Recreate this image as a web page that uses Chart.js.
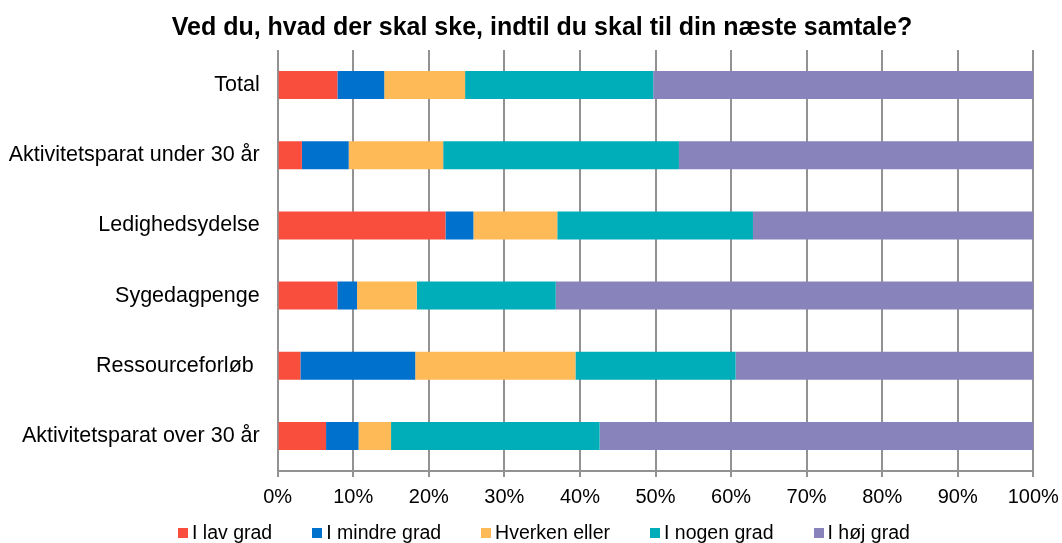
<!DOCTYPE html>
<html lang="da">
<head>
<meta charset="utf-8">
<title>Ved du, hvad der skal ske</title>
<script src="https://cdn.jsdelivr.net/npm/chart.js@4.4.1/dist/chart.umd.min.js"></script>
<style>
    html, body { margin: 0; padding: 0; background: #ffffff; }
    #wrap { width: 1062px; height: 543px; position: relative; font-family: Arial, 'Liberation Sans', sans-serif; }
    #chart-title {
        position: absolute; left: 0; width: 1084px; top: 12px; margin: 0;
        text-align: center; font-size: 25px; line-height: 28px; font-weight: bold; color: #000;
    }
    #legend {
        position: absolute; left: 178px; top: 521px;
        display: flex; align-items: center; font-size: 19.5px; line-height: 22px; color: #000;
    }
    #legend .item { display: flex; align-items: center; margin-right: 40px; white-space: pre; }
    #legend .box { width: 10px; height: 10px; margin-right: 4px; margin-top: 1px; }
</style>
</head>
<body>
<div id="wrap">
    <h1 id="chart-title">Ved du, hvad der skal ske, indtil du skal til din næste samtale?</h1>
    <canvas id="chart"></canvas>
    <div id="legend"></div>
</div>
<script>
// data (percent of respondents)
const categories = ['Total', 'Aktivitetsparat under 30 år', 'Ledighedsydelse', 'Sygedagpenge', 'Ressourceforløb ', 'Aktivitetsparat over 30 år'];
const seriesNames = ['I lav grad', 'I mindre grad', 'Hverken eller', 'I nogen grad', 'I høj grad'];
const lavGrad = [7.9, 3.2, 22.2, 7.9, 3.0, 6.4];
const mindreGrad = [6.2, 6.2, 3.7, 2.6, 15.2, 4.3];
const hverkenEller = [10.7, 12.5, 11.1, 7.9, 21.2, 4.3];
const nogenGrad = [24.9, 31.2, 25.9, 18.4, 21.2, 27.6];
const hoejGrad = [50.3, 46.9, 37.1, 63.2, 39.4, 57.4];
const tickValues = [0, 10, 20, 30, 40, 50, 60, 70, 80, 90, 100];

const colors = ['#F94E3D', '#0072CE', '#FFBA58', '#00AEB9', '#8983BB'];
const values = [lavGrad, mindreGrad, hverkenEller, nogenGrad, hoejGrad];
const FONT = "Arial, 'Liberation Sans', sans-serif";
const gridGrey = '#929292';

// html legend built from the chart's own legend items
const htmlLegend = {
    id: 'htmlLegend',
    afterUpdate(chart) {
        const box = document.getElementById('legend');
        box.innerHTML = '';
        const items = chart.options.plugins.legend.labels.generateLabels(chart);
        items.forEach(item => {
            const el = document.createElement('div');
            el.className = 'item';
            const sw = document.createElement('span');
            sw.className = 'box';
            sw.style.background = item.fillStyle;
            const txt = document.createElement('span');
            txt.textContent = item.text;
            el.appendChild(sw);
            el.appendChild(txt);
            box.appendChild(el);
        });
    }
};

new Chart(document.getElementById('chart'), {
    type: 'bar',
    data: {
        labels: categories,
        datasets: seriesNames.map((name, i) => ({
            label: name,
            data: values[i],
            backgroundColor: colors[i],
            borderWidth: 0,
            categoryPercentage: 1,
            barPercentage: 0.4
        }))
    },
    plugins: [htmlLegend],
    options: {
        indexAxis: 'y',
        responsive: true,
        maintainAspectRatio: false,
        animation: false,
        layout: { padding: { left: 0, right: 28.7, top: 50, bottom: 32 } },
        plugins: {
            title: { display: false },
            legend: { display: false },
            tooltip: { enabled: false }
        },
        scales: {
            x: {
                stacked: true,
                min: 0,
                max: 100,
                afterBuildTicks: (scale) => { scale.ticks = tickValues.map(v => ({ value: v })); },
                afterFit: (scale) => {
                    scale.height = 40;
                    // the layout padding already leaves room for "100%"
                    scale.paddingLeft = 0;
                    scale.paddingRight = 0;
                },
                grid: { color: gridGrey, lineWidth: 2, tickLength: 6, drawTicks: true },
                border: { display: true, color: gridGrey, width: 2 },
                ticks: {
                    color: '#000',
                    font: { family: FONT, size: 20 },
                    padding: 8,
                    maxRotation: 0,
                    callback: (v) => v + '%'
                }
            },
            y: {
                stacked: true,
                afterFit: (scale) => { scale.width = 277.7; },
                grid: { display: false, drawTicks: false },
                border: { display: false },
                ticks: {
                    color: '#000',
                    font: { family: FONT, size: 21.5 },
                    padding: 18
                }
            }
        }
    }
});
</script>
</body>
</html>
